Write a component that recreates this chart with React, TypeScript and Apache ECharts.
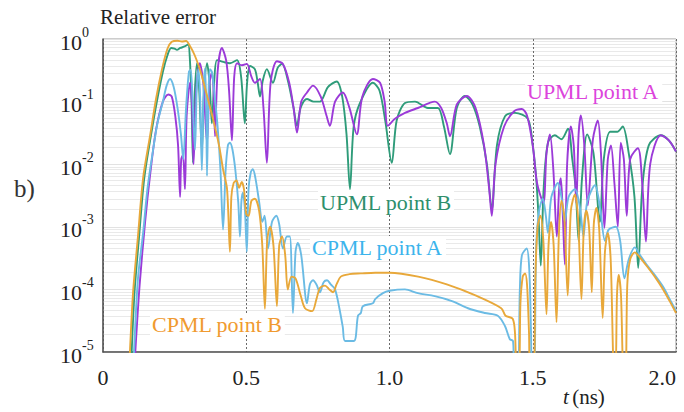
import React, { useEffect, useRef } from "react";
import * as echarts from "echarts";

// Axis ticks
const tTicks = [0, 0.5, 1.0, 1.5, 2.0];
const tTickLabels = ["0", "0.5", "1.0", "1.5", "2.0"];
const errorDecades = [1e-5, 1e-4, 1e-3, 1e-2, 1e-1, 1];
const errorExponents = ["-5", "-4", "-3", "-2", "-1", "0"];

// Relative error vs time t (ns)
const upmlA: [number, number][] = [
  [0.108, 4e-6], [0.115, 1.5e-5], [0.128, 1.2e-4], [0.147, 0.0012], [0.164, 0.0065], [0.185, 0.035],
  [0.209, 0.1], [0.228, 0.13], [0.24, 0.12], [0.252, 0.06], [0.262, 0.02], [0.269, 0.003], [0.273, 0.012],
  [0.279, 0.014], [0.286, 0.004], [0.292, 0.06], [0.304, 0.2], [0.311, 0.08], [0.316, 0.01], [0.324, 0.12],
  [0.338, 0.41], [0.35, 0.2], [0.363, 0.022], [0.372, 0.2], [0.38, 0.29], [0.386, 0.15], [0.391, 0.028],
  [0.4, 0.3], [0.415, 0.72], [0.43, 0.45], [0.44, 0.15], [0.45, 0.024], [0.458, 0.25], [0.468, 0.41],
  [0.485, 0.38], [0.502, 0.4], [0.518, 0.25], [0.53, 0.2], [0.548, 0.23], [0.56, 0.08], [0.572, 0.0105],
  [0.585, 0.2], [0.607, 0.44], [0.628, 0.4], [0.65, 0.2], [0.665, 0.08], [0.677, 0.032], [0.692, 0.1],
  [0.712, 0.14], [0.733, 0.18], [0.76, 0.12], [0.78, 0.06], [0.792, 0.041], [0.81, 0.1], [0.837, 0.14],
  [0.86, 0.08], [0.886, 0.03], [0.905, 0.12], [0.942, 0.23], [0.967, 0.2], [0.983, 0.1], [0.994, 0.041],
  [1.019, 0.053], [1.054, 0.066], [1.099, 0.079], [1.158, 0.1], [1.18, 0.08], [1.2, 0.045], [1.211, 0.028],
  [1.235, 0.09], [1.27, 0.123], [1.3, 0.08], [1.33, 0.02], [1.348, 0.004], [1.357, 0.0015], [1.37, 0.01],
  [1.4, 0.04], [1.435, 0.07], [1.462, 0.076], [1.48, 0.06], [1.5, 0.02], [1.515, 0.005], [1.537, 0.0024],
  [1.548, 0.015], [1.56, 0.03], [1.572, 0.008], [1.584, 7e-4], [1.592, 0.004], [1.598, 0.006], [1.605, 0.0015],
  [1.612, 2.5e-4], [1.62, 0.01], [1.633, 0.04], [1.643, 0.02], [1.652, 0.0024], [1.66, 0.03], [1.668, 0.06],
  [1.68, 0.02], [1.692, 0.0022], [1.71, 0.025], [1.727, 0.05], [1.738, 0.015], [1.75, 9.6e-4], [1.762, 0.012],
  [1.773, 0.02], [1.785, 0.005], [1.797, 0.001], [1.807, 0.022], [1.818, 0.012], [1.828, 0.0015], [1.84, 0.012],
  [1.867, 0.018], [1.882, 0.005], [1.895, 5.8e-4], [1.91, 0.01], [1.947, 0.029], [1.975, 0.024], [2.0, 0.016],
];

const upmlB: [number, number][] = [
  [0.097, 4e-6], [0.1, 1e-5], [0.11, 9e-5], [0.126, 7e-4], [0.144, 0.006], [0.167, 0.028], [0.188, 0.1],
  [0.209, 0.3], [0.225, 0.55], [0.238, 0.72], [0.25, 0.7], [0.258, 0.67], [0.27, 0.72], [0.285, 0.76],
  [0.297, 0.82], [0.303, 0.5], [0.309, 0.1], [0.314, 0.0105], [0.319, 0.1], [0.328, 0.41], [0.336, 0.15],
  [0.345, 0.016], [0.352, 0.12], [0.363, 0.41], [0.372, 0.2], [0.38, 0.045], [0.388, 0.2], [0.398, 0.46],
  [0.42, 0.43], [0.443, 0.41], [0.468, 0.46], [0.482, 0.25], [0.495, 0.045], [0.503, 0.2], [0.513, 0.37],
  [0.53, 0.33], [0.54, 0.2], [0.548, 0.12], [0.558, 0.22], [0.572, 0.33], [0.593, 0.2], [0.61, 0.35],
  [0.625, 0.4], [0.645, 0.22], [0.665, 0.08], [0.677, 0.041], [0.69, 0.08], [0.712, 0.11], [0.735, 0.1],
  [0.757, 0.1], [0.785, 0.17], [0.816, 0.21], [0.835, 0.12], [0.85, 0.03], [0.862, 0.004], [0.875, 0.04],
  [0.897, 0.095], [0.942, 0.2], [0.965, 0.15], [0.985, 0.05], [1.008, 0.0105], [1.025, 0.05], [1.054, 0.095],
  [1.089, 0.1], [1.134, 0.079], [1.169, 0.079], [1.19, 0.04], [1.211, 0.0145], [1.235, 0.08], [1.263, 0.123],
  [1.29, 0.09], [1.315, 0.04], [1.34, 0.01], [1.357, 0.0019], [1.375, 0.02], [1.403, 0.058], [1.438, 0.066],
  [1.483, 0.053], [1.5, 0.02], [1.512, 0.006], [1.52, 0.0015], [1.528, 2.4e-4], [1.538, 0.004], [1.553, 0.022],
  [1.577, 0.029], [1.6, 0.025], [1.623, 0.037], [1.638, 0.012], [1.65, 0.004], [1.66, 6e-4], [1.672, 0.006],
  [1.69, 0.03], [1.712, 0.015], [1.734, 0.0012], [1.748, 0.012], [1.77, 0.033], [1.795, 0.033], [1.814, 0.04],
  [1.835, 0.015], [1.855, 0.003], [1.868, 2.2e-4], [1.882, 0.004], [1.905, 0.02], [1.947, 0.029], [1.975, 0.024],
  [2.0, 0.016],
];

const cpmlA: [number, number][] = [
  [0.104, 4e-6], [0.11, 1.5e-5], [0.122, 1.5e-4], [0.14, 8e-4], [0.155, 0.004], [0.174, 0.016], [0.19, 0.045],
  [0.209, 0.1], [0.222, 0.18], [0.234, 0.23], [0.247, 0.17], [0.26, 0.08], [0.272, 0.03], [0.28, 0.012],
  [0.29, 0.08], [0.3, 0.3], [0.306, 0.32], [0.313, 0.1], [0.321, 0.017], [0.327, 0.15], [0.333, 0.33],
  [0.339, 0.12], [0.345, 0.008], [0.351, 0.15], [0.356, 0.34], [0.36, 0.1], [0.363, 0.0065], [0.368, 0.12],
  [0.373, 0.33], [0.38, 0.3], [0.39, 0.12], [0.4, 0.04], [0.41, 0.008], [0.419, 9e-4], [0.428, 0.008],
  [0.436, 0.02], [0.443, 0.022], [0.452, 0.017], [0.462, 0.008], [0.472, 0.0025], [0.478, 7e-4], [0.483, 0.0025],
  [0.488, 0.0035], [0.495, 0.002], [0.502, 4e-4], [0.508, 0.004], [0.516, 0.0075], [0.523, 0.0083], [0.532, 0.006],
  [0.545, 0.0025], [0.556, 0.0012], [0.564, 0.0015], [0.576, 4.5e-4], [0.59, 0.0012], [0.605, 0.0015],
  [0.615, 0.0011], [0.628, 4.5e-4], [0.642, 7e-4], [0.652, 7e-4], [0.663, 4.2e-5], [0.672, 4e-4], [0.68, 5.5e-4],
  [0.692, 3.5e-4], [0.712, 6e-5], [0.722, 1.2e-4], [0.733, 1.4e-4], [0.745, 1.2e-4], [0.757, 9e-5], [0.77, 1.3e-4],
  [0.782, 1.4e-4], [0.795, 1.2e-4], [0.81, 1e-4], [0.825, 5e-5], [0.837, 2.5e-5], [0.845, 1.5e-5], [0.876, 1.5e-5],
  [0.89, 3.8e-5], [0.9, 4.2e-5], [0.907, 5.4e-5], [0.942, 6e-5], [0.95, 7e-5], [0.977, 8.7e-5], [1.0, 9.5e-5],
  [1.054, 1e-4], [1.099, 8.7e-5], [1.158, 7.8e-5], [1.218, 6.5e-5], [1.274, 5e-5], [1.333, 4.2e-5],
  [1.378, 3.8e-5], [1.403, 2.6e-5], [1.42, 1.6e-5], [1.431, 1.5e-5], [1.436, 5e-6], [1.448, 5e-6], [1.455, 1e-4],
  [1.462, 3.5e-4], [1.479, 4.5e-4], [1.488, 2e-4], [1.494, 2e-5], [1.497, 5e-6], [1.505, 5e-6], [1.512, 5e-4],
  [1.522, 0.0018], [1.535, 0.0028], [1.545, 0.0016], [1.553, 8e-4], [1.565, 0.003], [1.588, 0.005], [1.6, 0.003],
  [1.612, 0.0012], [1.625, 0.003], [1.647, 0.004], [1.665, 0.002], [1.677, 7e-4], [1.69, 0.0025], [1.717, 0.0046],
  [1.735, 0.002], [1.752, 6e-4], [1.765, 9e-4], [1.79, 0.001], [1.805, 6e-4], [1.82, 1.5e-4], [1.835, 3e-4],
  [1.856, 4.7e-4], [1.875, 3.5e-4], [1.9, 2.4e-4], [1.93, 1.6e-4], [1.955, 1.1e-4], [1.978, 7e-5], [2.0, 4.5e-5],
];

const cpmlB: [number, number][] = [
  [0.09, 3e-6], [0.094, 1e-5], [0.105, 9e-5], [0.122, 7e-4], [0.14, 0.006], [0.164, 0.028], [0.185, 0.11],
  [0.206, 0.33], [0.225, 0.7], [0.24, 0.9], [0.26, 0.94], [0.275, 0.91], [0.29, 0.93], [0.305, 0.75],
  [0.32, 0.55], [0.338, 0.33], [0.362, 0.13], [0.384, 0.053], [0.405, 0.02], [0.419, 0.0083], [0.433, 0.004],
  [0.443, 4e-4], [0.448, 0.003], [0.456, 0.005], [0.466, 0.0055], [0.475, 0.0042], [0.484, 0.0052],
  [0.492, 0.004], [0.5, 0.0016], [0.508, 0.0015], [0.518, 0.0026], [0.53, 0.0028], [0.545, 0.0018],
  [0.556, 5e-4], [0.565, 4.9e-5], [0.573, 6e-4], [0.583, 0.001], [0.595, 5e-4], [0.607, 5.4e-5], [0.615, 5e-4],
  [0.625, 7e-4], [0.636, 3.5e-4], [0.645, 1e-4], [0.658, 1.6e-4], [0.672, 1.5e-4], [0.69, 8e-5], [0.705, 5e-5],
  [0.73, 4.5e-5], [0.745, 7e-5], [0.757, 1.05e-4], [0.775, 1.15e-4], [0.79, 1.0e-4], [0.803, 9e-5],
  [0.815, 1.2e-4], [0.83, 1.6e-4], [0.86, 1.75e-4], [0.9, 1.8e-4], [0.95, 1.85e-4], [1.0, 1.85e-4],
  [1.1, 1.6e-4], [1.2, 1.2e-4], [1.3, 8e-5], [1.39, 5e-5], [1.405, 3.8e-5], [1.43, 3.4e-5], [1.438, 2e-5],
  [1.444, 5e-6], [1.452, 5e-6], [1.457, 6e-5], [1.465, 1.6e-4], [1.473, 1.8e-4], [1.48, 1.2e-4], [1.487, 2e-5],
  [1.491, 5e-6], [1.503, 5e-6], [1.509, 1.5e-4], [1.517, 0.001], [1.527, 0.0015], [1.537, 6e-4], [1.548, 4e-5],
  [1.555, 5e-4], [1.564, 0.0012], [1.573, 5e-4], [1.583, 3e-5], [1.591, 7e-4], [1.6, 0.0026], [1.61, 0.0015],
  [1.622, 8e-5], [1.633, 0.0018], [1.647, 0.0033], [1.658, 0.0014], [1.67, 7e-5], [1.678, 9e-4], [1.687, 0.0018],
  [1.697, 9e-4], [1.706, 9e-5], [1.713, 0.0011], [1.722, 0.002], [1.732, 9e-4], [1.744, 3.5e-5], [1.752, 4e-4],
  [1.762, 8e-4], [1.772, 3e-4], [1.784, 5e-6], [1.789, 5e-6], [1.794, 8e-5], [1.8, 1.7e-4], [1.808, 8e-5],
  [1.817, 5e-6], [1.824, 5e-6], [1.83, 1.2e-4], [1.84, 3e-4], [1.856, 3.9e-4], [1.875, 3.2e-4], [1.9, 2.3e-4],
  [1.93, 1.5e-4], [1.955, 1e-4], [1.978, 6.5e-5], [2.0, 4.2e-5],
];

const SERIF = "Liberation Serif";

export default function App() {
  const ref = useRef<HTMLDivElement>(null);

  useEffect(() => {
    if (!ref.current) return;
    const chart = echarts.init(ref.current, null, { renderer: "svg" });

    const curve = (name: string, data: [number, number][], color: string, z: number) => ({
      name,
      type: "line",
      data,
      symbol: "none",
      smooth: 0.3,
      clip: true,
      z,
      lineStyle: { color, width: 1.9 },
    });

    const label = (text: string, left: number, top: number, color: string) => ({
      type: "text",
      left,
      top,
      z: 50,
      style: {
        text,
        fill: color,
        fontFamily: SERIF,
        fontSize: 22,
        backgroundColor: "#ffffff",
        padding: [0, 2, 0, 2],
      },
    });

    chart.setOption({
      animation: false,
      backgroundColor: "#ffffff",
      grid: {
        left: 103,
        top: 39,
        right: 8,
        bottom: 60,
        show: true,
        borderColor: "#9a9a9a",
        borderWidth: 1,
        backgroundColor: "#ffffff",
      },
      xAxis: {
        type: "value",
        min: 0,
        max: 2,
        interval: 0.5,
        axisLine: { show: true, onZero: false, lineStyle: { color: "#555", width: 1.5 } },
        axisTick: { show: false },
        axisLabel: {
          fontFamily: SERIF,
          fontSize: 22,
          color: "#222",
          margin: 14,
          alignMaxLabel: "right",
          formatter: (v: number) => {
            const i = tTicks.findIndex((t) => Math.abs(t - v) < 1e-9);
            return i >= 0 ? tTickLabels[i] : "";
          },
        },
        splitLine: { show: true, lineStyle: { color: "#6a6a6a", type: [2, 2], width: 1 } },
      },
      yAxis: {
        type: "log",
        logBase: 10,
        min: 1e-5,
        max: 1,
        splitNumber: 5,
        axisLine: { show: true, lineStyle: { color: "#555", width: 1.5 } },
        axisTick: { show: false },
        minorTick: { show: false, splitNumber: 10 },
        minorSplitLine: { show: true, lineStyle: { color: "#e9e9e9", width: 1 } },
        splitLine: { show: true, lineStyle: { color: "#e2e2e2", width: 1 } },
        axisLabel: {
          align: "left",
          margin: 43,
          formatter: (v: number) => {
            const i = errorDecades.findIndex((d) => Math.abs(Math.log10(d) - Math.log10(v)) < 1e-6);
            return i >= 0 ? `{b|10}{s|${errorExponents[i]}}` : "";
          },
          rich: {
            b: { fontFamily: SERIF, fontSize: 22, color: "#222", lineHeight: 28, verticalAlign: "bottom" },
            s: { fontFamily: SERIF, fontSize: 14, color: "#222", lineHeight: 14, verticalAlign: "top" },
          },
        },
      },
      series: [
        curve("UPML point B", upmlB, "#2f9c7a", 2),
        curve("UPML point A", upmlA, "#9b3ad8", 3),
        curve("CPML point A", cpmlA, "#6bbbe4", 4),
        curve("CPML point B", cpmlB, "#e8a83a", 5),
      ],
      graphic: [
        {
          type: "text",
          left: 100,
          top: 6,
          style: { text: "Relative error", fill: "#222", fontFamily: SERIF, fontSize: 21 },
        },
        {
          type: "text",
          left: 14,
          top: 176,
          style: { text: "b)", fill: "#333", fontFamily: SERIF, fontSize: 25 },
        },
        {
          type: "text",
          left: 563,
          top: 386,
          style: {
            text: "{i|t} {n|(ns)}",
            rich: {
              i: { fontFamily: SERIF, fontStyle: "italic", fontSize: 21, fill: "#222" },
              n: { fontFamily: SERIF, fontSize: 21, fill: "#222" },
            },
          },
        },
        label("UPML point A", 525, 80, "#dc44dc"),
        label("UPML point B", 318, 191, "#2e8f6c"),
        label("CPML point A", 310, 236, "#3cb4ec"),
        label("CPML point B", 150, 313, "#f09a30"),
      ],
    });

    return () => chart.dispose();
  }, []);

  return (
    <div
      ref={ref}
      style={{ position: "fixed", left: 0, top: 0, width: 684, height: 412, background: "#fff" }}
    />
  );
}
